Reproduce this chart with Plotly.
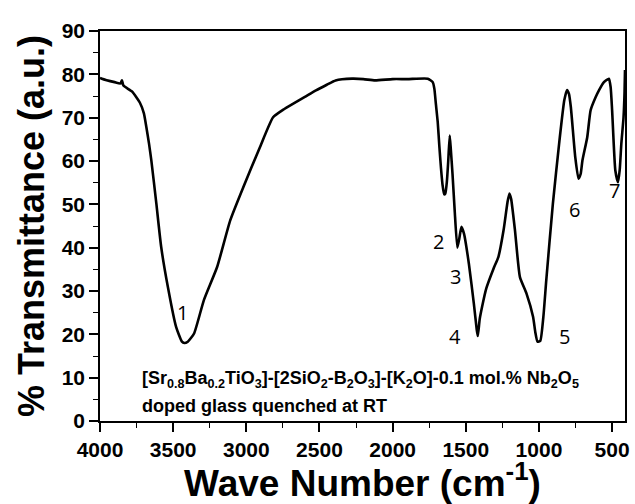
import plotly.graph_objects as go

wavenumber = [4000, 3987, 3900, 3860, 3850, 3840, 3780, 3728, 3700, 3683, 3665, 3649, 3615, 3582,
              3536, 3480, 3440, 3424, 3400, 3357, 3290, 3199, 3110, 3020, 2907, 2817, 2750,
              2682, 2600, 2524, 2450, 2390, 2277, 2200, 2120, 2000, 1900, 1760, 1726, 1715,
              1704, 1692, 1681, 1670, 1659, 1648, 1640, 1630, 1620, 1610, 1603, 1591, 1576,
              1558, 1545, 1530, 1512, 1479, 1445, 1425, 1418, 1405, 1389, 1360, 1310, 1277,
              1242, 1215, 1202, 1190, 1164, 1130, 1085, 1040, 1025, 1010, 991, 970, 950, 905,
              860, 827, 808, 795, 782, 752, 730, 715, 703, 670, 647, 613, 590, 556, 522, 510,
              500, 478, 460, 448, 437, 422, 415, 412]
transmittance = [79.2, 79.0, 78.2, 77.9, 78.6, 77.4, 76.0, 73.5, 71.0, 67.8, 64.0, 60.1, 50.2, 40.2,
                 30.9, 21.7, 18.3, 18.0, 18.3, 20.2, 27.9, 35.6, 46.3, 54.0, 63.2, 70.1, 71.8,
                 73.2, 74.8, 76.3, 77.6, 78.6, 79.0, 78.9, 78.6, 78.9, 78.9, 79.0, 78.2, 76.7,
                 73.0, 69.0, 63.5, 58.5, 54.5, 52.3, 52.5, 55.0, 60.0, 65.9, 63.0, 57.1, 48.6,
                 40.0, 42.0, 44.8, 43.2, 36.3, 27.1, 21.0, 19.6, 23.5, 26.3, 30.6, 35.2, 37.9,
                 44.0, 50.5, 52.5, 51.2, 44.0, 33.2, 29.4, 24.0, 20.5, 18.3, 18.5, 24.0, 32.5, 50.1,
                 64.7, 74.0, 76.4, 75.5, 72.4, 60.9, 55.9, 57.0, 60.1, 65.5, 71.7, 74.7, 76.3, 78.2, 79.0, 77.0,
                 71.7, 57.8, 55.1, 58.0, 64.0, 70.1, 76.0, 81.0]

peak_labels = ["1", "2", "3", "4", "5", "6", "7"]
peak_x = [3435, 1686, 1571, 1571, 828, 754, 485]
peak_y = [25.1, 41.5, 33.4, 19.4, 19.4, 48.8, 53.2]

note_line1 = ("<b>[Sr<sub>0.8</sub>Ba<sub>0.2</sub>TiO<sub>3</sub>]-[2SiO<sub>2</sub>-B<sub>2</sub>O<sub>3</sub>]"
              "-[K<sub>2</sub>O]-0.1 mol.% Nb<sub>2</sub>O<sub>5</sub></b>")
note_line2 = "<b>doped glass quenched at RT</b>"

fig = go.Figure()
fig.add_trace(go.Scatter(x=wavenumber, y=transmittance, mode="lines",
                         line=dict(color="black", width=2.6, shape="spline", smoothing=0.5),
                         showlegend=False))

for lab, px, py in zip(peak_labels, peak_x, peak_y):
    fig.add_annotation(x=px, y=py, text=lab, showarrow=False,
                       font=dict(family="Open Sans", size=20, color="black"))

fig.add_annotation(x=3729, y=9.6, xref="x", yref="y", text=note_line1, showarrow=False,
                   xanchor="left", font=dict(family="Arial", size=18, color="black"))
fig.add_annotation(x=3729, y=3.4, xref="x", yref="y", text=note_line2, showarrow=False,
                   xanchor="left", font=dict(family="Arial", size=18, color="black"))

fig.update_layout(
    width=635, height=504,
    margin=dict(l=100, r=5, t=31, b=83),
    paper_bgcolor="white", plot_bgcolor="white",
    font=dict(family="Arial", color="black"),
    xaxis=dict(range=[4000, 412], tickmode="array",
               tickvals=[4000, 3500, 3000, 2500, 2000, 1500, 1000, 500],
               ticktext=["<b>%d</b>" % v for v in [4000, 3500, 3000, 2500, 2000, 1500, 1000, 500]],
               ticks="outside", ticklen=9, tickwidth=1.5, tickcolor="black",
               minor=dict(dtick=250, tick0=0, ticks="outside", ticklen=5, tickwidth=1.2, tickcolor="black"),
               showline=True, linecolor="black", linewidth=1.5, mirror=True,
               showgrid=False, zeroline=False,
               tickfont=dict(family="Arial", size=21, color="black"),
               title=dict(text="<b>Wave Number (cm<sup>-1</sup>)</b>",
                          font=dict(family="Arial", size=37, color="black"), standoff=4)),
    yaxis=dict(range=[0, 90], tickmode="array",
               tickvals=[0, 10, 20, 30, 40, 50, 60, 70, 80, 90],
               ticktext=["<b>%d</b>" % v for v in [0, 10, 20, 30, 40, 50, 60, 70, 80, 90]],
               ticks="outside", ticklen=9, tickwidth=1.5, tickcolor="black",
               minor=dict(dtick=5, tick0=0, ticks="outside", ticklen=5, tickwidth=1.2, tickcolor="black"),
               showline=True, linecolor="black", linewidth=1.5, mirror=True,
               showgrid=False, zeroline=False,
               tickfont=dict(family="Arial", size=21, color="black"),
               title=dict(text="<b>% Transmittance (a.u.)</b>",
                          font=dict(family="Arial", size=36, color="black"), standoff=6)),
)

fig.write_html("out.html")
